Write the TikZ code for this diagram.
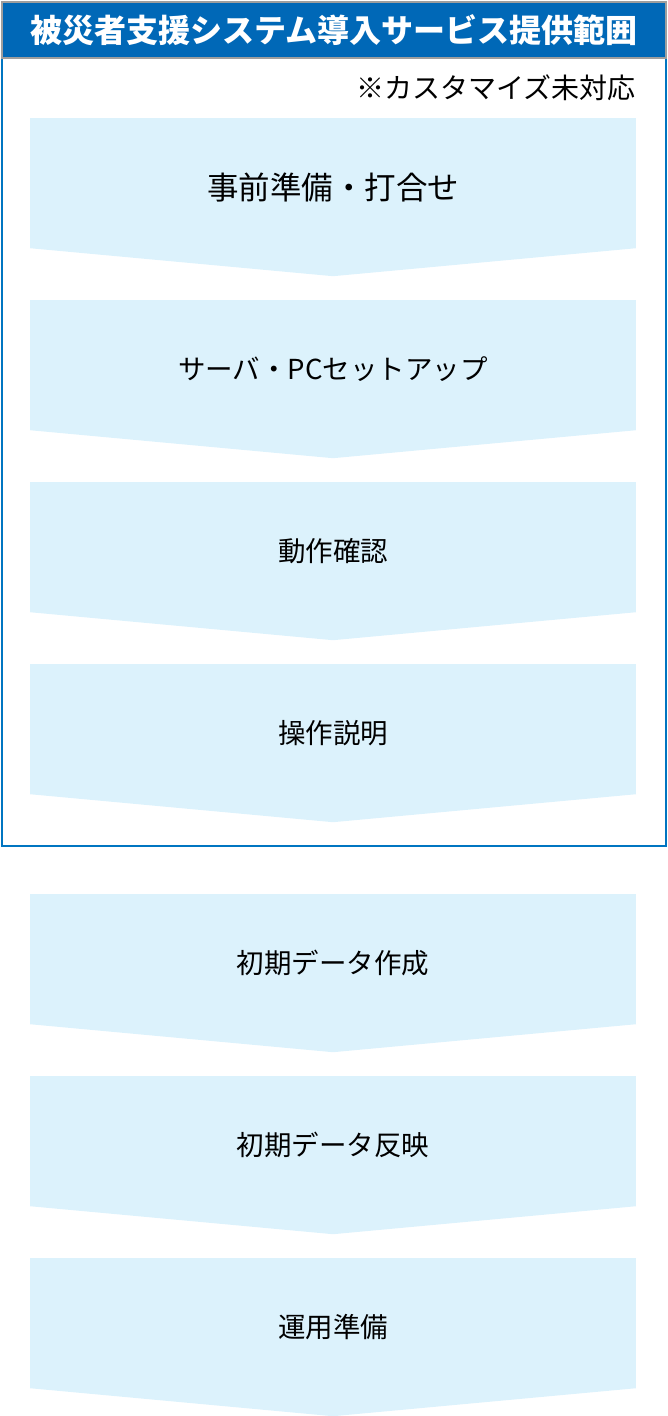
\documentclass[tikz,border=0pt]{standalone}
\usepackage{fontspec}
\setmainfont{Noto Sans CJK JP}
\usetikzlibrary{positioning}

\definecolor{headblue}{HTML}{0068B7}
\definecolor{headgray}{HTML}{9E9E9E}
\definecolor{frameblue}{HTML}{0075C1}
\definecolor{stepfill}{HTML}{DCF2FC}

\begin{document}
\begin{tikzpicture}[x=1pt, y=1pt,
    stepbox/.style={fill=stepfill, minimum width=606pt, minimum height=130pt,
      inner sep=0pt, text centered, text height=29pt, text depth=0pt,
      font=\fontsize{27.5}{31}\selectfont},
    ]
    \useasboundingbox (0,0) rectangle (668,-1416);

    % frame %
    \node[draw=frameblue, line width=2pt, minimum width=664pt, minimum height=788pt, inner sep=0pt] (frame) at (334,-452) {};
    \node[fill=headblue, draw=headgray, line width=1.5pt, minimum width=664pt, minimum height=56pt,
      inner sep=0pt, text=white, font=\bfseries\fontsize{32}{36}\selectfont] (head) at (334,-30) {被災者支援システム導入サービス提供範囲};
    \node[anchor=east, inner sep=0pt, font=\fontsize{28}{32}\selectfont] (note) at (636,-88) {※カスタマイズ未対応};

    % steps %
    \node[stepbox, text height=32pt, font=\fontsize{31.5}{35}\selectfont] (prep) at (333,-183) {事前準備・打合せ};
    \node[stepbox, below of = prep, node distance=182pt] (setup) {サーバ・PCセットアップ};
    \node[stepbox, below of = setup, node distance=182pt] (check) {動作確認};
    \node[stepbox, below of = check, node distance=182pt] (explain) {操作説明};
    \node[stepbox, below of = explain, node distance=230pt] (initdata) {初期データ作成};
    \node[stepbox, below of = initdata, node distance=182pt] (reflect) {初期データ反映};
    \node[stepbox, below of = reflect, node distance=182pt] (ready) {運用準備};

    % arrow tips %
    \foreach \s in {prep, setup, check, explain, initdata, reflect, ready}
      \fill[stepfill] (\s.south west) -- (\s.south east) -- ([yshift=-28pt]\s.south) -- cycle;
\end{tikzpicture}
\end{document}
